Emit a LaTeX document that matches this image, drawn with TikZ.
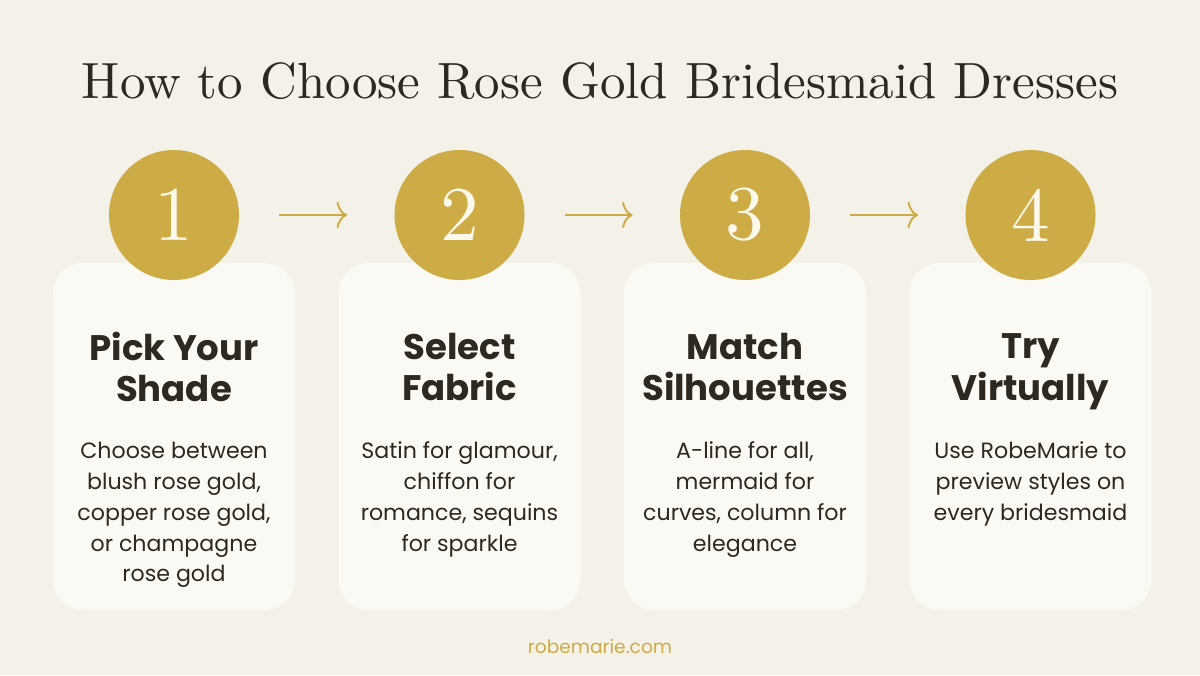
\documentclass[tikz,border=0pt]{standalone}
\usepackage{fontspec}
\newfontfamily\poppins{Poppins}
\newfontfamily\serifx{lmroman10-regular.otf}
\usetikzlibrary{arrows.meta}

\definecolor{paper}{HTML}{F4F1E8}
\definecolor{cardbg}{HTML}{FBF9F3}
\definecolor{gold}{HTML}{CDAC45}
\definecolor{ink}{HTML}{2D2920}
\definecolor{cream}{HTML}{FCF8EC}

\begin{document}
\begin{tikzpicture}[
			node distance={5.71cm},
			card/.style = {fill=cardbg, rounded corners=0.6cm, minimum width=4.84cm, minimum height=6.94cm, inner sep=0pt},
			num/.style = {circle, fill=gold, minimum size=2.6cm, inner sep=0pt, text=cream, font=\serifx\fontsize{44}{44}\selectfont},
			head/.style = {text=ink, align=center, execute at begin node=\strut, font=\poppins\bfseries\fontsize{20.2}{23.5}\selectfont},
			body/.style = {text=ink, align=center, anchor=north, font=\poppins\fontsize{12.6}{17.6}\selectfont},
			flow/.style = {draw=gold, line width=1.1pt, -{To[length=6pt, width=15pt]}, shorten <=0.8cm, shorten >=0.94cm}
		]
		\fill[paper] (0,0) rectangle (24,-13.5);
		\node[text=ink, font=\serifx\fontsize{29}{29}\selectfont] (title) at (12,-1.62) {How to Choose Rose Gold Bridesmaid Dresses};
		% cards
		\node[card] (card1) at (3.48,-8.73) {};
		\node[card] (card2) [right of=card1] {};
		\node[card] (card3) [right of=card2] {};
		\node[card] (card4) [right of=card3] {};
		% step circles
		\node[num] (c1) [above of=card1, node distance=4.43cm] {1};
		\node[num] (c2) [above of=card2, node distance=4.43cm] {2};
		\node[num] (c3) [above of=card3, node distance=4.43cm] {3};
		\node[num] (c4) [above of=card4, node distance=4.43cm] {4};
		\draw[flow] (c1) -- (c2);
		\draw[flow] (c2) -- (c3);
		\draw[flow] (c3) -- (c4);
		% headings
		\node[head, yshift=-2.21cm] (h1) at (card1.north) {Pick Your\\Shade};
		\node[head, yshift=-2.21cm] (h2) at (card2.north) {Select\\Fabric};
		\node[head, yshift=-2.21cm] (h3) at (card3.north) {Match\\Silhouettes};
		\node[head, yshift=-2.21cm] (h4) at (card4.north) {Try\\Virtually};
		% texts
		\node[body, yshift=-3.46cm] (t1) at (card1.north) {Choose between\\blush rose gold,\\copper rose gold,\\or champagne\\rose gold};
		\node[body, yshift=-3.46cm] (t2) at (card2.north) {Satin for glamour,\\chiffon for\\romance, sequins\\for sparkle};
		\node[body, yshift=-3.46cm] (t3) at (card3.north) {A-line for all,\\mermaid for\\curves, column for\\elegance};
		\node[body, yshift=-3.46cm] (t4) at (card4.north) {Use RobeMarie to\\preview styles on\\every bridesmaid};
		\node[text=gold, font=\poppins\fontsize{10.6}{10.6}\selectfont] (site) at (12,-12.92) {robemarie.com};
	\end{tikzpicture}
\end{document}
